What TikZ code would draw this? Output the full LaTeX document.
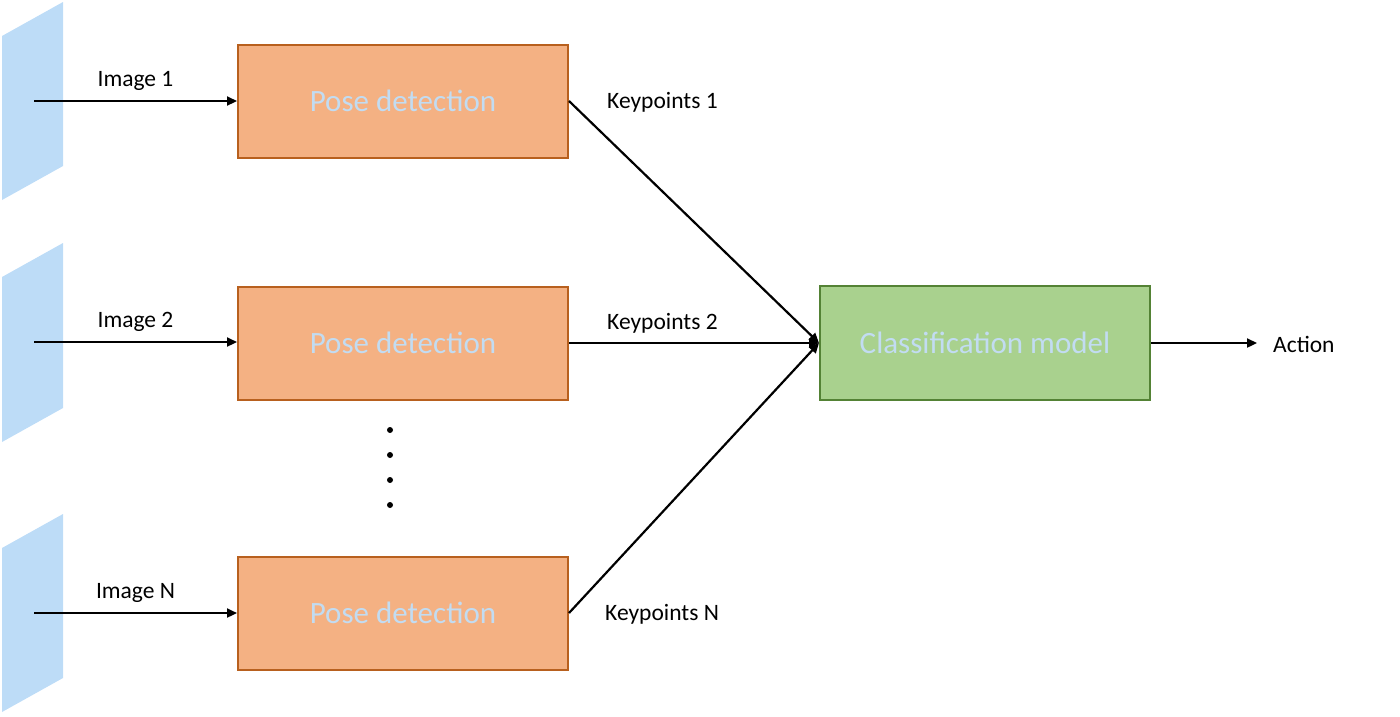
\documentclass[tikz,border=0pt]{standalone}
\usepackage{fontspec}
\setmainfont{Carlito}
\usepackage{xcolor}
\usetikzlibrary{arrows.meta, positioning}

\definecolor{poseFill}{HTML}{F4B183}
\definecolor{poseEdge}{HTML}{B8601E}
\definecolor{clsFill}{HTML}{A9D18E}
\definecolor{clsEdge}{HTML}{548235}
\definecolor{imgFill}{HTML}{BDDCF7}
\definecolor{boxText}{HTML}{C2DCF2}

\begin{document}
\begin{tikzpicture}[
  x=1pt, y=-1pt,
  posebox/.style = {draw=poseEdge, line width=2pt, fill=poseFill,
                    minimum width=330pt, minimum height=113pt,
                    text=boxText, font=\fontsize{31}{36}\selectfont},
  clsbox/.style  = {draw=clsEdge, line width=2pt, fill=clsFill,
                    minimum width=330pt, minimum height=114pt,
                    text=boxText, font=\fontsize{31}{36}\selectfont},
  lbl/.style     = {font=\fontsize{23.5}{28}\selectfont, inner sep=0pt},
  arr/.style     = {-{Triangle[length=10pt, width=9pt]}, line width=2.2pt, black}
]
\useasboundingbox (0,0) rectangle (1400,716);

% input frames
\fill[imgFill] (2,36) -- (63,2) -- (63,166) -- (2,200) -- cycle;
\fill[imgFill] (2,277) -- (63,243) -- (63,408) -- (2,442) -- cycle;
\fill[imgFill] (2,548) -- (63,514) -- (63,678) -- (2,712) -- cycle;
\coordinate (img1) at (34,101);
\coordinate (img2) at (34,342);
\coordinate (imgN) at (34,613);

% pose detection
\node[posebox] (pose1) at (403,101) {Pose detection};
\node[posebox] (pose2) at (403,343) {Pose detection};
\node[posebox] (poseN) at (403,613) {Pose detection};

\node[clsbox] (cls) at (985,343) {Classification model};
\coordinate (out) at (1257,343);

\draw[arr] (img1) -- node[above=9pt, lbl]{Image 1} (pose1.west);
\draw[arr] (img2) -- node[above=9pt, lbl]{Image 2} (img2 -| pose2.west);
\draw[arr] (imgN) -- node[above=9pt, lbl]{Image N} (poseN.west);

\draw[arr] (pose1.east) -- (cls.west);
\draw[arr] (pose2.east) -- (cls.west);
\draw[arr] (poseN.east) -- (cls.west);
\draw[arr] (cls.east) -- (out);

\node[lbl, anchor=west] (kp1) at (607,102) {Keypoints 1};
\node[lbl, anchor=west] (kp2) at (607,323) {Keypoints 2};
\node[lbl, anchor=west] (kpN) at (605,614) {Keypoints N};
\node[lbl, anchor=west] (act) at (1273,344) {Action};

% vertical dots
\foreach \yy in {430,455,480,505}
  \fill (390,\yy) circle (3pt);
\end{tikzpicture}
\end{document}
